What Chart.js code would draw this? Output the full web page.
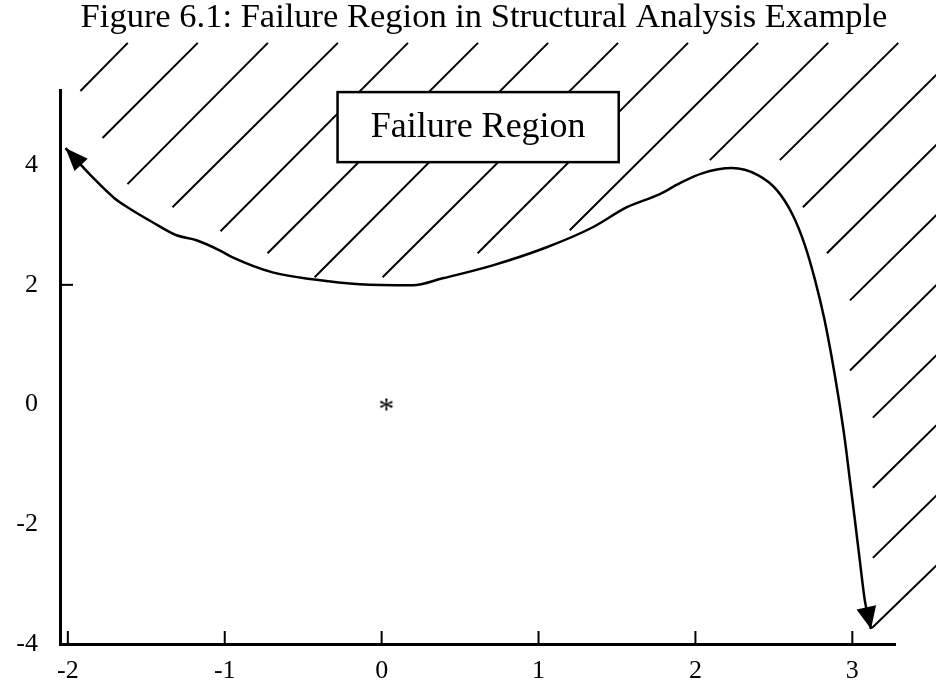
<!DOCTYPE html>
<html>
<head>
<meta charset="utf-8">
<script src="https://cdn.jsdelivr.net/npm/chart.js@4.4.0/dist/chart.umd.min.js"></script>
<style>
  html, body { margin: 0; padding: 0; background: #fff; }
  #wrap { width: 936px; height: 691px; }
</style>
</head>
<body>
<div id="wrap"><canvas id="chart" width="936" height="691"></canvas></div>
<script>
// limit-state curve g(x1, x2) = 0 (arrow at both ends)
const curveX = [-2.015, -1.843, -1.703, -1.620, -1.460, -1.307, -1.180, -1.033, -0.950, -0.695,
                -0.440, -0.140, 0.198, 0.389, 0.708, 1.052, 1.346, 1.563, 1.773, 1.901,
                2.047, 2.232, 2.398, 2.519, 2.621, 2.698, 2.763, 2.821, 2.870, 2.915,
                2.953, 2.985, 3.017, 3.048, 3.080, 3.119];
const curveY = [4.285, 3.799, 3.448, 3.297, 3.046, 2.828, 2.745, 2.577, 2.460, 2.209,
                2.092, 2.008, 1.992, 2.109, 2.326, 2.628, 2.962, 3.297, 3.515, 3.699,
                3.866, 3.950, 3.833, 3.582, 3.163, 2.661, 2.075, 1.439, 0.770, 0.067,
                -0.603, -1.272, -1.941, -2.611, -3.280, -3.749];

// mean point marked with an asterisk
const meanX = [0.03];
const meanY = [0];

// hatching of the failure region: lower and upper end of each stroke
const hatchLowX  = [-1.920, -1.779, -1.620, -1.333, -1.027, -0.727, -0.427, 0.006, 0.612, 1.199,
                    2.092, 2.538, 2.685, 2.838, 2.985, 2.985, 3.131, 3.131, 3.131, 3.125];
const hatchLowY  = [5.238, 4.452, 3.682, 3.297, 2.895, 2.527, 2.126, 2.126, 2.527, 2.912,
                    4.084, 4.084, 3.297, 2.527, 1.741, 0.569, -0.218, -1.389, -2.561, -3.732];
const hatchHighX = [-1.618, -1.172, -0.725, -0.279, 0.168, 0.614, 1.061, 1.507, 1.953, 2.400,
                    2.846, 3.293, 3.600, 3.600, 3.600, 3.600, 3.600, 3.600, 3.600, 3.600];
const hatchHighY = [6.042, 6.042, 6.042, 6.042, 6.042, 6.042, 6.042, 6.042, 6.042, 6.042,
                    6.042, 6.042, 5.677, 4.506, 3.334, 2.163, 0.991, -0.180, -1.352, -2.524];

const xTicks = [-2, -1, 0, 1, 2, 3];
const yTicks = [-4, -2, 0, 2, 4];
const yTickMarks = [2];

const boxX = [-0.281, 1.511];
const boxY = [4.05, 5.22];
const boxLabel = 'Failure Region';
const titleText = 'Figure 6.1: Failure Region in Structural Analysis Example';

const serif = '"Liberation Serif", "Times New Roman", serif';

const curvePts = curveX.map((x, i) => ({ x, y: curveY[i] }));
const meanPts = meanX.map((x, i) => ({ x, y: meanY[i] }));
const hatchPts = [];
hatchLowX.forEach((x, i) => {
    hatchPts.push({ x, y: hatchLowY[i] });
    hatchPts.push({ x: hatchHighX[i], y: hatchHighY[i] });
    hatchPts.push({ x: hatchHighX[i], y: null });
});

// asterisk glyph used as the point style
function starGlyph() {
    const c = document.createElement('canvas');
    c.width = 24; c.height = 24;
    const g = c.getContext('2d');
    g.font = '32px ' + serif;
    g.textAlign = 'center';
    g.fillStyle = '#000';
    const m = g.measureText('*');
    g.fillText('*', 12, 12 + (m.actualBoundingBoxAscent - m.actualBoundingBoxDescent) / 2);
    return c;
}

function arrowHead(ctx, tip, from, len, half) {
    const a = Math.atan2(tip.y - from.y, tip.x - from.x);
    ctx.save();
    ctx.translate(tip.x, tip.y);
    ctx.rotate(a);
    ctx.beginPath();
    ctx.moveTo(0, 0);
    ctx.lineTo(-len, -half);
    ctx.lineTo(-len, half);
    ctx.closePath();
    ctx.fillStyle = '#000';
    ctx.fill();
    ctx.restore();
}

const decor = {
    id: 'decor',
    afterDatasetsDraw(chart) {
        const { ctx, scales: { x, y } } = chart;
        ctx.save();
        // inward tick marks
        ctx.strokeStyle = '#000';
        ctx.lineWidth = 2;
        const yb = y.getPixelForValue(y.min);
        xTicks.forEach(v => {
            const px = x.getPixelForValue(v);
            ctx.beginPath(); ctx.moveTo(px, yb); ctx.lineTo(px, yb - 13); ctx.stroke();
        });
        const xl = x.getPixelForValue(x.min);
        yTickMarks.forEach(v => {
            const py = y.getPixelForValue(v);
            ctx.beginPath(); ctx.moveTo(xl, py); ctx.lineTo(xl + 13, py); ctx.stroke();
        });

        // arrow heads at both ends of the curve
        const pts = chart.getDatasetMeta(0).data;
        const n = pts.length;
        arrowHead(ctx, pts[0], pts[1], 23, 9);
        arrowHead(ctx, pts[n - 1], pts[n - 2], 22, 10);

        // label box
        const bx0 = x.getPixelForValue(boxX[0]), bx1 = x.getPixelForValue(boxX[1]);
        const by0 = y.getPixelForValue(boxY[1]), by1 = y.getPixelForValue(boxY[0]);
        ctx.fillStyle = '#fff';
        ctx.fillRect(bx0, by0, bx1 - bx0, by1 - by0);
        ctx.lineWidth = 2.5;
        ctx.strokeRect(bx0, by0, bx1 - bx0, by1 - by0);
        ctx.fillStyle = '#000';
        ctx.font = '36px ' + serif;
        ctx.textAlign = 'center';
        ctx.textBaseline = 'middle';
        ctx.fillText(boxLabel, (bx0 + bx1) / 2, (by0 + by1) / 2);

        // figure caption, centred on the page as in the original
        ctx.font = '34.5px ' + serif;
        ctx.textBaseline = 'alphabetic';
        ctx.fillText(titleText, 484, 27);
        ctx.restore();
    }
};

const tickFont = { family: serif, size: 26 };

new Chart(document.getElementById('chart').getContext('2d'), {
    type: 'scatter',
    data: {
        datasets: [
            {
                label: 'limit state',
                data: curvePts,
                showLine: true,
                borderColor: '#000',
                borderWidth: 2.5,
                pointRadius: 0,
                cubicInterpolationMode: 'monotone',
                clip: false,
                order: 1
            },
            {
                label: 'mean',
                data: meanPts,
                pointStyle: starGlyph(),
                pointRadius: 12,
                order: 0
            },
            {
                label: 'hatch',
                data: hatchPts,
                showLine: true,
                spanGaps: false,
                borderColor: '#000',
                borderWidth: 2,
                pointRadius: 0,
                clip: false,
                order: 2
            }
        ]
    },
    options: {
        responsive: false,
        animation: false,
        layout: { padding: { left: 0, right: 41, top: 90, bottom: 0 } },
        plugins: {
            legend: { display: false },
            tooltip: { enabled: false },
            title: { display: false }
        },
        scales: {
            x: {
                type: 'linear',
                min: -2.05,
                max: 3.272,
                afterBuildTicks: s => { s.ticks = xTicks.map(v => ({ value: v })); },
                afterFit: s => { s.height = 47; },
                grid: { display: false, drawTicks: false },
                border: { display: true, color: '#000', width: 3 },
                ticks: { font: tickFont, color: '#000', padding: 12, maxRotation: 0, autoSkip: false }
            },
            y: {
                type: 'linear',
                min: -4,
                max: 5.255,
                afterBuildTicks: s => { s.ticks = yTicks.map(v => ({ value: v })); },
                afterFit: s => { s.width = 60; },
                grid: { display: false, drawTicks: false },
                border: { display: true, color: '#000', width: 3 },
                ticks: { font: tickFont, color: '#000', padding: 22, autoSkip: false }
            }
        }
    },
    plugins: [decor]
});
</script>
</body>
</html>
